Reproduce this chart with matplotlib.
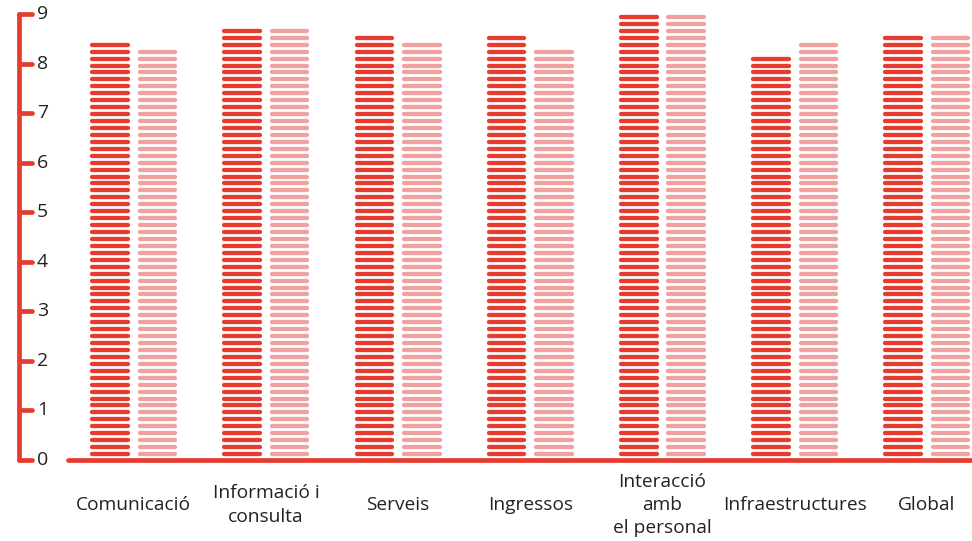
import matplotlib.pyplot as plt
import numpy as np

# data
categories = ['Comunicació', 'Informació i\nconsulta', 'Serveis', 'Ingressos',
              'Interacció\namb\nel personal', 'Infraestructures', 'Global']
series_a = [8.4, 8.7, 8.55, 8.55, 9.0, 8.15, 8.55]   # dark red
series_b = [8.3, 8.7, 8.4, 8.3, 9.0, 8.4, 8.55]      # light red
yticks = list(range(0, 10))

DARK = '#E63C30'
LIGHT = '#F0A19F'
TEXT = '#222222'

plt.rcParams['font.family'] = ['Open Sans', 'DejaVu Sans']

W, H = 972, 541
fig = plt.figure(figsize=(W / 100, H / 100), dpi=100)
ax = fig.add_axes([0, 0, 1, 1])
ax.set_axis_off()

# pixel layout of the reference
y0_px, unit_px = 460, 49.56       # baseline row, pixels per unit
x0_px, cat_px = 133.7, 132.2      # first category centre, spacing
ax.set_xlim(-x0_px / cat_px, (W - x0_px) / cat_px)
ax.set_ylim((y0_px - H) / unit_px, y0_px / unit_px)

def px_x(p):
    return (p - x0_px) / cat_px

# stripes
step, first = 0.14, 0.12
offset = 23.7 / cat_px
half = (40 - 4.3) / 2 / cat_px
x = np.arange(len(categories))
for vals, sign, col in [(series_a, -1, DARK), (series_b, 1, LIGHT)]:
    for xi, v in zip(x, vals):
        ys = np.arange(first, v, step)
        xc = xi + sign * offset
        ax.hlines(ys, xc - half, xc + half, colors=col, linewidth=3.1,
                  capstyle='round')

# baseline
ax.plot([px_x(68), px_x(W + 10)], [0, 0], color=DARK, lw=3.4,
        solid_capstyle='round', clip_on=False)

# left axis with ticks
xa = px_x(19)
ax.plot([xa, xa], [yticks[0], yticks[-1]], color=DARK, lw=3.4,
        solid_capstyle='round')
ax.hlines(yticks, xa, px_x(32), colors=DARK, linewidth=3.4, capstyle='round')
for t in yticks:
    ax.text(px_x(37), t, str(t), ha='left', va='center', fontsize=14,
            color=TEXT)

# category labels
for xi, lab in zip(x, categories):
    ax.text(xi, -45 / unit_px, lab, ha='center', va='center',
            multialignment='center', fontsize=13.8, color=TEXT,
            linespacing=1.38)

fig.savefig('out.png', dpi=100)
